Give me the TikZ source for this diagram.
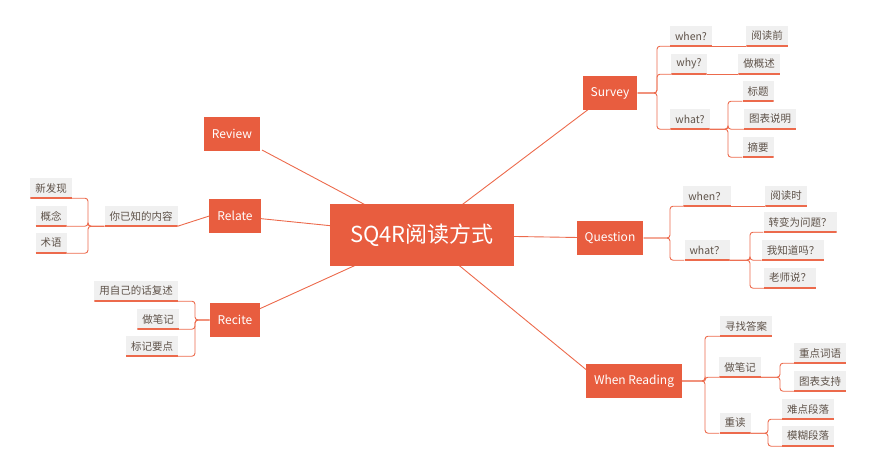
\documentclass[tikz,border=0pt]{standalone}
\usepackage{fontspec}
\setmainfont{Noto Sans CJK SC}
\usetikzlibrary{positioning,calc}
\definecolor{mainred}{HTML}{E85D3F}
\definecolor{linered}{HTML}{EC6A4C}
\definecolor{leafgray}{HTML}{F0F0F0}
\definecolor{leaftext}{HTML}{5E5249}

\begin{document}
\begin{tikzpicture}[x=1pt,y=-1pt,
    central/.style={fill=mainred,text=white,font=\fontsize{22}{26}\selectfont,minimum height=62pt,minimum width=184pt},
    topic/.style={fill=mainred,text=white,font=\fontsize{12}{14}\selectfont,minimum height=34pt,inner xsep=8pt},
    leaf/.style={fill=leafgray,text=leaftext,font=\fontsize{10.5}{12}\selectfont,minimum height=20pt,inner xsep=5pt,
      path picture={\draw[linered,line width=1.8pt] (path picture bounding box.south west) -- (path picture bounding box.south east);}},
    conn/.style={linered,line width=0.9pt},
    tree/.style={linered,line width=0.9pt,rounded corners=3pt}
  ]
  \useasboundingbox (0,0) rectangle (880,475);

  % spines of the small trees
  \coordinate (svs) at (657,0);
  \coordinate (wts) at (728,0);
  \coordinate (qus) at (670,0);
  \coordinate (qws) at (750,0);
  \coordinate (wrs) at (705,0);
  \coordinate (bjs) at (780,0);
  \coordinate (dus) at (768,0);
  \coordinate (kns) at (88,0);
  \coordinate (rcs) at (195,0);

  % lines from the centre, drawn under the boxes
  \coordinate (cc) at (422,235);
  \draw[conn] (cc) -- (610,93);
  \draw[conn] (cc) -- (610,238);
  \draw[conn] (cc) -- (600,381);
  \draw[conn] (cc) -- (262,150);
  \draw[conn] (cc) -- (235,216);
  \draw[conn] (cc) -- (235,320);

  \node[central] (c) at (cc) {SQ4R阅读方式};

  \node[topic] (sv) at (610,93) {Survey};
  \node[topic] (qu) at (610,238) {Question};
  \node[topic] (wr) at (634,381) {When Reading};
  \node[topic] (rv) at (232,134) {Review};
  \node[topic] (rl) at (235,216) {Relate};
  \node[topic] (rc) at (235,320) {Recite};

  % Survey
  \node[leaf] (svwhen) at (691,36) {when?};
  \node[leaf] (svwhy) at (689,64) {why?};
  \node[leaf] (svwhat) at (690,119) {what?};
  \node[leaf] (yd) at (767,36) {阅读前};
  \node[leaf] (gs) at (759,64) {做概述};
  \node[leaf] (bt) at (758,91) {标题};
  \node[leaf] (tb) at (770,119) {图表说明};
  \node[leaf] (zy) at (758,147) {摘要};
  \foreach \k in {svwhen,svwhy,svwhat}
    \draw[tree] (sv.east) -- (sv.east -| svs) |- (\k.south west);
  \draw[conn] (svwhen.south east) -- (yd.south west);
  \draw[conn] (svwhy.south east) -- (gs.south west);
  \foreach \k in {bt,tb,zy}
    \draw[tree] (svwhat.south east) -- (svwhat.south east -| wts) |- (\k.south west);

  % Question
  \node[leaf] (quwhen) at (707,196) {when？};
  \node[leaf] (quwhat) at (707,250) {what？};
  \node[leaf] (ys) at (786,196) {阅读时};
  \node[leaf] (zb) at (800,222) {转变为问题？};
  \node[leaf] (wz) at (793,250) {我知道吗？};
  \node[leaf] (ls) at (790,278) {老师说？};
  \foreach \k in {quwhen,quwhat}
    \draw[tree] (qu.east) -- (qu.east -| qus) |- (\k.south west);
  \draw[conn] (quwhen.south east) -- (ys.south west);
  \foreach \k in {zb,wz,ls}
    \draw[tree] (quwhat.south east) -- (quwhat.south east -| qws) |- (\k.south west);

  % When Reading
  \node[leaf] (xz) at (746,326) {寻找答案};
  \node[leaf] (bj) at (740,367) {做笔记};
  \node[leaf] (cd) at (735,423) {重读};
  \node[leaf] (zd) at (820,353) {重点词语};
  \node[leaf] (tz) at (820,381) {图表支持};
  \node[leaf] (nd) at (808,409) {难点段落};
  \node[leaf] (mh) at (808,436) {模糊段落};
  \foreach \k in {xz,bj,cd}
    \draw[tree] (wr.east) -- (wr.east -| wrs) |- (\k.south west);
  \foreach \k in {zd,tz}
    \draw[tree] (bj.south east) -- (bj.south east -| bjs) |- (\k.south west);
  \foreach \k in {nd,mh}
    \draw[tree] (cd.south east) -- (cd.south east -| dus) |- (\k.south west);

  % Relate
  \node[leaf] (yz) at (141,216) {你已知的内容};
  \node[leaf] (xf) at (51,188) {新发现};
  \node[leaf] (gn) at (51,216) {概念};
  \node[leaf] (sy) at (51,243) {术语};
  \draw[conn] (rl.west) -- (yz.south east);
  \foreach \k in {xf,gn,sy}
    \draw[tree] (yz.south west) -- (yz.south west -| kns) |- (\k.south east);

  % Recite
  \node[leaf] (fs) at (136,291) {用自己的话复述};
  \node[leaf] (bj2) at (158,319) {做笔记};
  \node[leaf] (bd) at (152,346) {标记要点};
  \foreach \k in {fs,bj2,bd}
    \draw[tree] (rc.west) -- (rc.west -| rcs) |- (\k.south east);
\end{tikzpicture}
\end{document}
